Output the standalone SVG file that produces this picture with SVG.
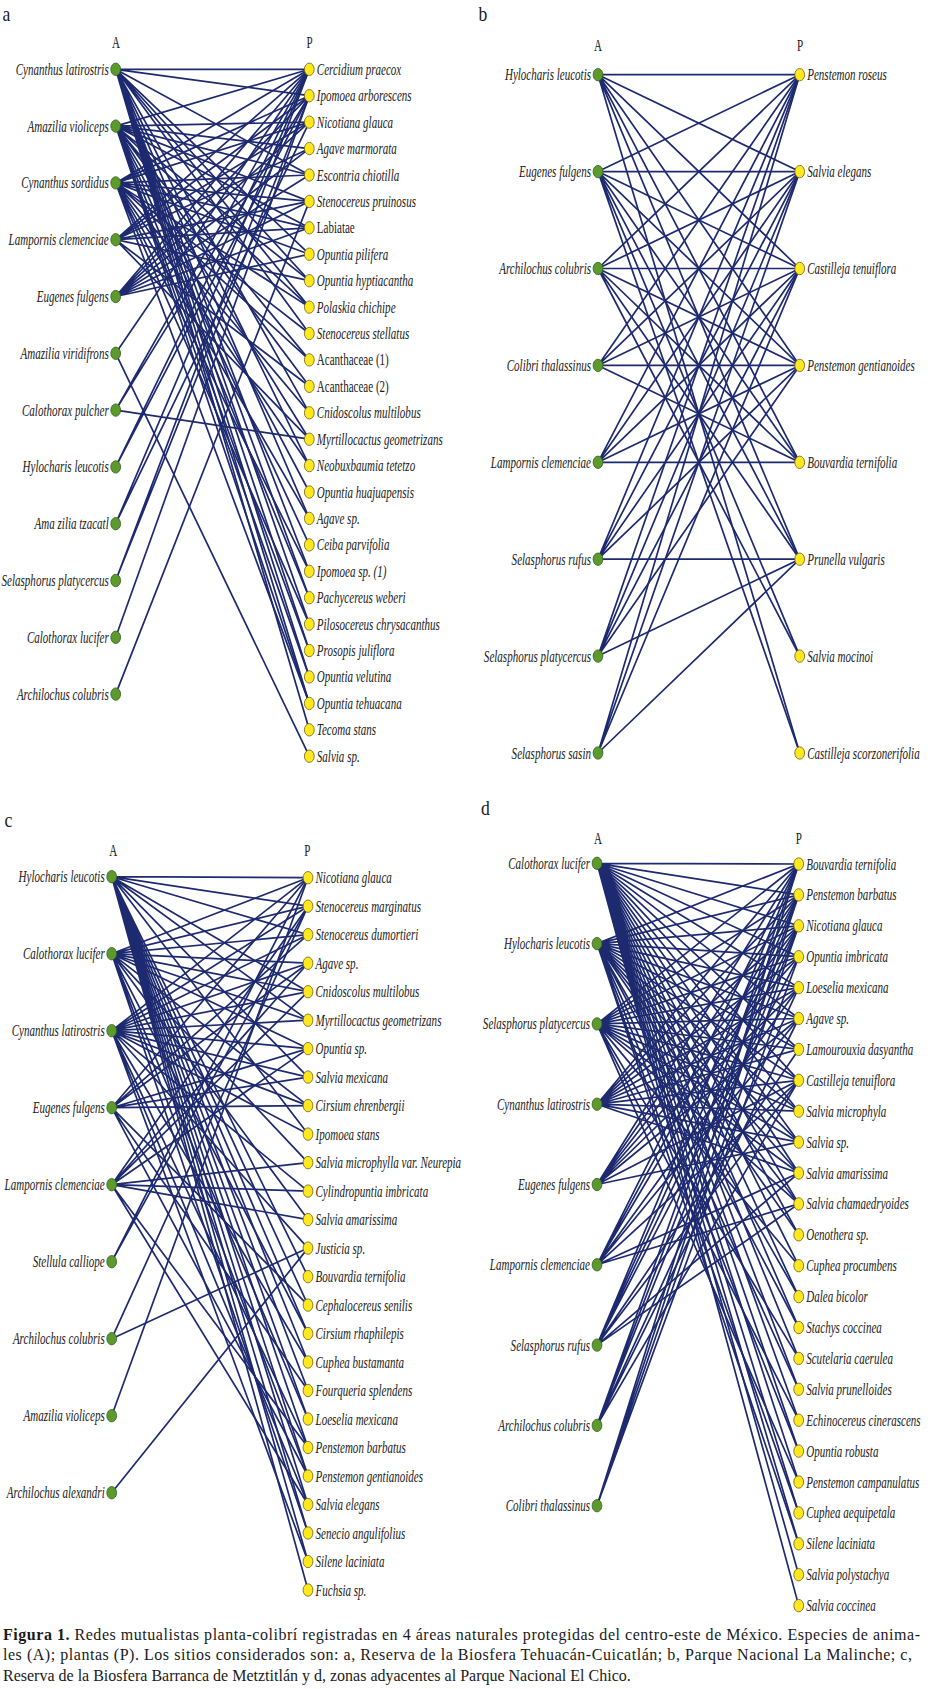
<svg xmlns="http://www.w3.org/2000/svg" width="934" height="1689" viewBox="0 0 934 1689">
<style>
.lab{font-family:"Liberation Serif","Times New Roman",serif;font-size:16px;font-style:italic;fill:#1a1a1a}
.up{font-style:normal}
.end{text-anchor:end}
.hd{font-family:"Liberation Serif","Times New Roman",serif;font-size:16px;text-anchor:middle;fill:#1a1a1a}
.pn{font-family:"Liberation Serif","Times New Roman",serif;font-size:22px;fill:#1a1a1a}
.cap{font-family:"Liberation Serif","Times New Roman",serif;font-size:16px;fill:#1a1a1a}
.an ellipse{fill:#5c9a2e;stroke:#36601a;stroke-width:0.8}
.pl ellipse{fill:#ffe81f;stroke:#6d5f12;stroke-width:0.8}
.edges path{fill:none;stroke:#1e2a70;stroke-width:1.7;stroke-linecap:round}
</style>
<rect width="934" height="1689" fill="#ffffff"/>

<!-- Panel labels and headers -->
<text class="pn" transform="translate(2.5,20.7) scale(0.8,1)">a</text>
<text class="pn" transform="translate(478.5,20.7) scale(0.8,1)">b</text>
<text class="pn" transform="translate(4.5,826.7) scale(0.8,1)">c</text>
<text class="pn" transform="translate(481,815) scale(0.8,1)">d</text>
<text class="hd" transform="translate(116,47.7) scale(0.69,1)">A</text>
<text class="hd" transform="translate(309.5,47.7) scale(0.69,1)">P</text>
<text class="hd" transform="translate(598,50.5) scale(0.69,1)">A</text>
<text class="hd" transform="translate(800,50.5) scale(0.69,1)">P</text>
<text class="hd" transform="translate(113.3,856) scale(0.69,1)">A</text>
<text class="hd" transform="translate(307.3,856) scale(0.69,1)">P</text>
<text class="hd" transform="translate(598,844) scale(0.69,1)">A</text>
<text class="hd" transform="translate(798.7,844) scale(0.69,1)">P</text>

<!-- Connectors -->
<g id="connectors" class="edges">
<g id="edges-a">
<path d="M115.7 69.3L309.3 69.3M115.7 69.3L309.3 95.7M115.7 69.3L309.3 175M115.7 69.3L309.3 254.2M115.7 69.3L309.3 280.7M115.7 69.3L309.3 307.1M115.7 69.3L309.3 333.5M115.7 69.3L309.3 412.8M115.7 69.3L309.3 465.6M115.7 69.3L309.3 518.4M115.7 69.3L309.3 571.3M115.7 69.3L309.3 597.7M115.7 69.3L309.3 624.1M115.7 69.3L309.3 650.5M115.7 69.3L309.3 676.9M115.7 69.3L309.3 703.4M115.7 69.3L309.3 729.8"/>
<path d="M115.7 126.1L309.3 69.3M115.7 126.1L309.3 122.1M115.7 126.1L309.3 148.6M115.7 126.1L309.3 175M115.7 126.1L309.3 201.4M115.7 126.1L309.3 227.8M115.7 126.1L309.3 280.7M115.7 126.1L309.3 307.1M115.7 126.1L309.3 359.9M115.7 126.1L309.3 386.3M115.7 126.1L309.3 439.2M115.7 126.1L309.3 492M115.7 126.1L309.3 544.9M115.7 126.1L309.3 597.7M115.7 126.1L309.3 650.5M115.7 126.1L309.3 676.9M115.7 126.1L309.3 703.4"/>
<path d="M115.7 182.9L309.3 69.3M115.7 182.9L309.3 95.7M115.7 182.9L309.3 122.1M115.7 182.9L309.3 175M115.7 182.9L309.3 201.4M115.7 182.9L309.3 227.8M115.7 182.9L309.3 254.2M115.7 182.9L309.3 307.1M115.7 182.9L309.3 333.5M115.7 182.9L309.3 359.9M115.7 182.9L309.3 412.8M115.7 182.9L309.3 465.6M115.7 182.9L309.3 518.4M115.7 182.9L309.3 571.3M115.7 182.9L309.3 624.1M115.7 182.9L309.3 703.4"/>
<path d="M115.7 239.7L309.3 69.3M115.7 239.7L309.3 95.7M115.7 239.7L309.3 122.1M115.7 239.7L309.3 148.6M115.7 239.7L309.3 201.4M115.7 239.7L309.3 227.8M115.7 239.7L309.3 280.7M115.7 239.7L309.3 386.3M115.7 239.7L309.3 439.2"/>
<path d="M115.7 296.5L309.3 69.3M115.7 296.5L309.3 95.7M115.7 296.5L309.3 122.1M115.7 296.5L309.3 148.6M115.7 296.5L309.3 175M115.7 296.5L309.3 201.4M115.7 296.5L309.3 227.8M115.7 296.5L309.3 254.2"/>
<path d="M115.7 353.3L309.3 69.3M115.7 353.3L309.3 756.2"/>
<path d="M115.7 410.1L309.3 69.3M115.7 410.1L309.3 95.7M115.7 410.1L309.3 439.2"/>
<path d="M115.7 466.9L309.3 69.3M115.7 466.9L309.3 95.7"/>
<path d="M115.7 523.7L309.3 69.3M115.7 523.7L309.3 122.1"/>
<path d="M115.7 580.5L309.3 69.3M115.7 580.5L309.3 95.7"/>
<path d="M115.7 637.3L309.3 95.7"/>
<path d="M115.7 694.1L309.3 201.4"/>
</g>
<g id="edges-b">
<path d="M598 74.7L799.7 74.7M598 74.7L799.7 171.6M598 74.7L799.7 268.5M598 74.7L799.7 365.4M598 74.7L799.7 462.3M598 74.7L799.7 559.2M598 74.7L799.7 753"/>
<path d="M598 171.6L799.7 74.7M598 171.6L799.7 171.6M598 171.6L799.7 268.5M598 171.6L799.7 365.4M598 171.6L799.7 462.3M598 171.6L799.7 559.2M598 171.6L799.7 656.1M598 171.6L799.7 753"/>
<path d="M598 268.5L799.7 74.7M598 268.5L799.7 171.6M598 268.5L799.7 268.5M598 268.5L799.7 365.4M598 268.5L799.7 462.3M598 268.5L799.7 559.2M598 268.5L799.7 656.1"/>
<path d="M598 365.4L799.7 74.7M598 365.4L799.7 171.6M598 365.4L799.7 268.5M598 365.4L799.7 365.4M598 365.4L799.7 462.3"/>
<path d="M598 462.3L799.7 74.7M598 462.3L799.7 171.6M598 462.3L799.7 268.5M598 462.3L799.7 365.4M598 462.3L799.7 462.3"/>
<path d="M598 559.2L799.7 74.7M598 559.2L799.7 171.6M598 559.2L799.7 268.5M598 559.2L799.7 365.4M598 559.2L799.7 559.2"/>
<path d="M598 656.1L799.7 74.7M598 656.1L799.7 171.6M598 656.1L799.7 268.5M598 656.1L799.7 365.4M598 656.1L799.7 559.2"/>
<path d="M598 753L799.7 74.7M598 753L799.7 171.6M598 753L799.7 268.5M598 753L799.7 559.2"/>
</g>
<g id="edges-c">
<path d="M111.7 876.7L308 877.7M111.7 876.7L308 906.2M111.7 876.7L308 934.7M111.7 876.7L308 991.7M111.7 876.7L308 1020.2M111.7 876.7L308 1077.1M111.7 876.7L308 1134.1M111.7 876.7L308 1276.6M111.7 876.7L308 1305.1M111.7 876.7L308 1333.5M111.7 876.7L308 1362M111.7 876.7L308 1390.5M111.7 876.7L308 1419M111.7 876.7L308 1447.5M111.7 876.7L308 1476M111.7 876.7L308 1504.5M111.7 876.7L308 1533M111.7 876.7L308 1561.5M111.7 876.7L308 1590"/>
<path d="M111.7 953.7L308 877.7M111.7 953.7L308 906.2M111.7 953.7L308 934.7M111.7 953.7L308 963.2M111.7 953.7L308 991.7M111.7 953.7L308 1020.2M111.7 953.7L308 1048.6M111.7 953.7L308 1105.6M111.7 953.7L308 1162.6M111.7 953.7L308 1219.6M111.7 953.7L308 1333.5M111.7 953.7L308 1419M111.7 953.7L308 1476M111.7 953.7L308 1533"/>
<path d="M111.7 1030.7L308 877.7M111.7 1030.7L308 906.2M111.7 1030.7L308 934.7M111.7 1030.7L308 963.2M111.7 1030.7L308 991.7M111.7 1030.7L308 1020.2M111.7 1030.7L308 1048.6M111.7 1030.7L308 1077.1M111.7 1030.7L308 1105.6M111.7 1030.7L308 1134.1M111.7 1030.7L308 1191.1M111.7 1030.7L308 1248.1M111.7 1030.7L308 1362M111.7 1030.7L308 1447.5M111.7 1030.7L308 1504.5M111.7 1030.7L308 1561.5"/>
<path d="M111.7 1107.7L308 877.7M111.7 1107.7L308 934.7M111.7 1107.7L308 963.2M111.7 1107.7L308 1048.6M111.7 1107.7L308 1077.1M111.7 1107.7L308 1105.6M111.7 1107.7L308 1305.1M111.7 1107.7L308 1390.5M111.7 1107.7L308 1476"/>
<path d="M111.7 1184.7L308 906.2M111.7 1184.7L308 963.2M111.7 1184.7L308 991.7M111.7 1184.7L308 1048.6M111.7 1184.7L308 1162.6M111.7 1184.7L308 1191.1M111.7 1184.7L308 1219.6M111.7 1184.7L308 1447.5M111.7 1184.7L308 1504.5"/>
<path d="M111.7 1261.7L308 877.7M111.7 1261.7L308 906.2"/>
<path d="M111.7 1338.7L308 906.2M111.7 1338.7L308 1248.1"/>
<path d="M111.7 1415.7L308 877.7"/>
<path d="M111.7 1492.7L308 1248.1"/>
</g>
<g id="edges-d">
<path d="M597 863.3L798.7 864M597 863.3L798.7 894.9M597 863.3L798.7 925.8M597 863.3L798.7 956.7M597 863.3L798.7 987.6M597 863.3L798.7 1018.5M597 863.3L798.7 1049.4M597 863.3L798.7 1080.3M597 863.3L798.7 1111.2M597 863.3L798.7 1142.1M597 863.3L798.7 1173M597 863.3L798.7 1203.9M597 863.3L798.7 1234.8M597 863.3L798.7 1265.7M597 863.3L798.7 1296.6M597 863.3L798.7 1327.5M597 863.3L798.7 1358.4M597 863.3L798.7 1389.3M597 863.3L798.7 1420.2M597 863.3L798.7 1451.1M597 863.3L798.7 1482M597 863.3L798.7 1512.9M597 863.3L798.7 1543.8M597 863.3L798.7 1574.7M597 863.3L798.7 1605.6"/>
<path d="M597 943.6L798.7 864M597 943.6L798.7 894.9M597 943.6L798.7 925.8M597 943.6L798.7 956.7M597 943.6L798.7 987.6M597 943.6L798.7 1018.5M597 943.6L798.7 1049.4M597 943.6L798.7 1080.3M597 943.6L798.7 1111.2M597 943.6L798.7 1142.1M597 943.6L798.7 1173M597 943.6L798.7 1203.9M597 943.6L798.7 1234.8M597 943.6L798.7 1296.6M597 943.6L798.7 1327.5M597 943.6L798.7 1389.3M597 943.6L798.7 1451.1M597 943.6L798.7 1512.9M597 943.6L798.7 1543.8"/>
<path d="M597 1023.9L798.7 864M597 1023.9L798.7 894.9M597 1023.9L798.7 925.8M597 1023.9L798.7 956.7M597 1023.9L798.7 987.6M597 1023.9L798.7 1018.5M597 1023.9L798.7 1049.4M597 1023.9L798.7 1080.3M597 1023.9L798.7 1111.2M597 1023.9L798.7 1142.1M597 1023.9L798.7 1173M597 1023.9L798.7 1203.9M597 1023.9L798.7 1265.7M597 1023.9L798.7 1358.4M597 1023.9L798.7 1420.2M597 1023.9L798.7 1482"/>
<path d="M597 1104.2L798.7 864M597 1104.2L798.7 894.9M597 1104.2L798.7 925.8M597 1104.2L798.7 956.7M597 1104.2L798.7 987.6M597 1104.2L798.7 1018.5M597 1104.2L798.7 1049.4M597 1104.2L798.7 1080.3M597 1104.2L798.7 1111.2M597 1104.2L798.7 1142.1M597 1104.2L798.7 1173"/>
<path d="M597 1184.5L798.7 864M597 1184.5L798.7 894.9M597 1184.5L798.7 925.8M597 1184.5L798.7 956.7M597 1184.5L798.7 987.6M597 1184.5L798.7 1018.5M597 1184.5L798.7 1080.3M597 1184.5L798.7 1142.1"/>
<path d="M597 1264.8L798.7 864M597 1264.8L798.7 894.9M597 1264.8L798.7 925.8M597 1264.8L798.7 987.6M597 1264.8L798.7 1018.5M597 1264.8L798.7 1080.3M597 1264.8L798.7 1173M597 1264.8L798.7 1203.9"/>
<path d="M597 1345.1L798.7 864M597 1345.1L798.7 894.9M597 1345.1L798.7 925.8M597 1345.1L798.7 956.7M597 1345.1L798.7 1049.4M597 1345.1L798.7 1080.3M597 1345.1L798.7 1173M597 1345.1L798.7 1203.9"/>
<path d="M597 1425.4L798.7 864M597 1425.4L798.7 894.9M597 1425.4L798.7 925.8M597 1425.4L798.7 987.6M597 1425.4L798.7 1018.5M597 1425.4L798.7 1080.3"/>
<path d="M597 1505.7L798.7 864M597 1505.7L798.7 894.9M597 1505.7L798.7 925.8M597 1505.7L798.7 956.7"/>
</g>
</g>

<!-- Panel a nodes -->
<g id="panel-a">
<g id="a-A0" class="an"><ellipse cx="115.7" cy="69.3" rx="4.9" ry="6.2"/><text class="lab end" transform="translate(108.7,74.8) scale(0.69,1)">Cynanthus latirostris</text></g>
<g id="a-A1" class="an"><ellipse cx="115.7" cy="126.1" rx="4.9" ry="6.2"/><text class="lab end" transform="translate(108.7,131.6) scale(0.69,1)">Amazilia violiceps</text></g>
<g id="a-A2" class="an"><ellipse cx="115.7" cy="182.9" rx="4.9" ry="6.2"/><text class="lab end" transform="translate(108.7,188.4) scale(0.69,1)">Cynanthus sordidus</text></g>
<g id="a-A3" class="an"><ellipse cx="115.7" cy="239.7" rx="4.9" ry="6.2"/><text class="lab end" transform="translate(108.7,245.2) scale(0.69,1)">Lampornis clemenciae</text></g>
<g id="a-A4" class="an"><ellipse cx="115.7" cy="296.5" rx="4.9" ry="6.2"/><text class="lab end" transform="translate(108.7,302) scale(0.69,1)">Eugenes fulgens</text></g>
<g id="a-A5" class="an"><ellipse cx="115.7" cy="353.3" rx="4.9" ry="6.2"/><text class="lab end" transform="translate(108.7,358.8) scale(0.69,1)">Amazilia viridifrons</text></g>
<g id="a-A6" class="an"><ellipse cx="115.7" cy="410.1" rx="4.9" ry="6.2"/><text class="lab end" transform="translate(108.7,415.6) scale(0.69,1)">Calothorax pulcher</text></g>
<g id="a-A7" class="an"><ellipse cx="115.7" cy="466.9" rx="4.9" ry="6.2"/><text class="lab end" transform="translate(108.7,472.4) scale(0.69,1)">Hylocharis leucotis</text></g>
<g id="a-A8" class="an"><ellipse cx="115.7" cy="523.7" rx="4.9" ry="6.2"/><text class="lab end" transform="translate(108.7,529.2) scale(0.69,1)">Ama zilia tzacatl</text></g>
<g id="a-A9" class="an"><ellipse cx="115.7" cy="580.5" rx="4.9" ry="6.2"/><text class="lab end" transform="translate(108.7,586) scale(0.69,1)">Selasphorus platycercus</text></g>
<g id="a-A10" class="an"><ellipse cx="115.7" cy="637.3" rx="4.9" ry="6.2"/><text class="lab end" transform="translate(108.7,642.8) scale(0.69,1)">Calothorax lucifer</text></g>
<g id="a-A11" class="an"><ellipse cx="115.7" cy="694.1" rx="4.9" ry="6.2"/><text class="lab end" transform="translate(108.7,699.6) scale(0.69,1)">Archilochus colubris</text></g>

<g id="a-P0" class="pl"><ellipse cx="309.3" cy="69.3" rx="4.9" ry="6.2"/><text class="lab" transform="translate(316.8,74.8) scale(0.69,1)">Cercidium praecox</text></g>
<g id="a-P1" class="pl"><ellipse cx="309.3" cy="95.7" rx="4.9" ry="6.2"/><text class="lab" transform="translate(316.8,101.2) scale(0.69,1)">Ipomoea arborescens</text></g>
<g id="a-P2" class="pl"><ellipse cx="309.3" cy="122.1" rx="4.9" ry="6.2"/><text class="lab" transform="translate(316.8,127.6) scale(0.69,1)">Nicotiana glauca</text></g>
<g id="a-P3" class="pl"><ellipse cx="309.3" cy="148.6" rx="4.9" ry="6.2"/><text class="lab" transform="translate(316.8,154.1) scale(0.69,1)">Agave marmorata</text></g>
<g id="a-P4" class="pl"><ellipse cx="309.3" cy="175" rx="4.9" ry="6.2"/><text class="lab" transform="translate(316.8,180.5) scale(0.69,1)">Escontria chiotilla</text></g>
<g id="a-P5" class="pl"><ellipse cx="309.3" cy="201.4" rx="4.9" ry="6.2"/><text class="lab" transform="translate(316.8,206.9) scale(0.69,1)">Stenocereus pruinosus</text></g>
<g id="a-P6" class="pl"><ellipse cx="309.3" cy="227.8" rx="4.9" ry="6.2"/><text class="lab up" transform="translate(316.8,233.3) scale(0.69,1)">Labiatae</text></g>
<g id="a-P7" class="pl"><ellipse cx="309.3" cy="254.2" rx="4.9" ry="6.2"/><text class="lab" transform="translate(316.8,259.7) scale(0.69,1)">Opuntia pilifera</text></g>
<g id="a-P8" class="pl"><ellipse cx="309.3" cy="280.7" rx="4.9" ry="6.2"/><text class="lab" transform="translate(316.8,286.2) scale(0.69,1)">Opuntia hyptiacantha</text></g>
<g id="a-P9" class="pl"><ellipse cx="309.3" cy="307.1" rx="4.9" ry="6.2"/><text class="lab" transform="translate(316.8,312.6) scale(0.69,1)">Polaskia chichipe</text></g>
<g id="a-P10" class="pl"><ellipse cx="309.3" cy="333.5" rx="4.9" ry="6.2"/><text class="lab" transform="translate(316.8,339) scale(0.69,1)">Stenocereus stellatus</text></g>
<g id="a-P11" class="pl"><ellipse cx="309.3" cy="359.9" rx="4.9" ry="6.2"/><text class="lab up" transform="translate(316.8,365.4) scale(0.69,1)">Acanthaceae (1)</text></g>
<g id="a-P12" class="pl"><ellipse cx="309.3" cy="386.3" rx="4.9" ry="6.2"/><text class="lab up" transform="translate(316.8,391.8) scale(0.69,1)">Acanthaceae (2)</text></g>
<g id="a-P13" class="pl"><ellipse cx="309.3" cy="412.8" rx="4.9" ry="6.2"/><text class="lab" transform="translate(316.8,418.3) scale(0.69,1)">Cnidoscolus multilobus</text></g>
<g id="a-P14" class="pl"><ellipse cx="309.3" cy="439.2" rx="4.9" ry="6.2"/><text class="lab" transform="translate(316.8,444.7) scale(0.69,1)">Myrtillocactus geometrizans</text></g>
<g id="a-P15" class="pl"><ellipse cx="309.3" cy="465.6" rx="4.9" ry="6.2"/><text class="lab" transform="translate(316.8,471.1) scale(0.69,1)">Neobuxbaumia tetetzo</text></g>
<g id="a-P16" class="pl"><ellipse cx="309.3" cy="492" rx="4.9" ry="6.2"/><text class="lab" transform="translate(316.8,497.5) scale(0.69,1)">Opuntia huajuapensis</text></g>
<g id="a-P17" class="pl"><ellipse cx="309.3" cy="518.4" rx="4.9" ry="6.2"/><text class="lab" transform="translate(316.8,523.9) scale(0.69,1)">Agave sp.</text></g>
<g id="a-P18" class="pl"><ellipse cx="309.3" cy="544.9" rx="4.9" ry="6.2"/><text class="lab" transform="translate(316.8,550.4) scale(0.69,1)">Ceiba parvifolia</text></g>
<g id="a-P19" class="pl"><ellipse cx="309.3" cy="571.3" rx="4.9" ry="6.2"/><text class="lab" transform="translate(316.8,576.8) scale(0.69,1)">Ipomoea sp. (1)</text></g>
<g id="a-P20" class="pl"><ellipse cx="309.3" cy="597.7" rx="4.9" ry="6.2"/><text class="lab" transform="translate(316.8,603.2) scale(0.69,1)">Pachycereus weberi</text></g>
<g id="a-P21" class="pl"><ellipse cx="309.3" cy="624.1" rx="4.9" ry="6.2"/><text class="lab" transform="translate(316.8,629.6) scale(0.69,1)">Pilosocereus chrysacanthus</text></g>
<g id="a-P22" class="pl"><ellipse cx="309.3" cy="650.5" rx="4.9" ry="6.2"/><text class="lab" transform="translate(316.8,656) scale(0.69,1)">Prosopis juliflora</text></g>
<g id="a-P23" class="pl"><ellipse cx="309.3" cy="676.9" rx="4.9" ry="6.2"/><text class="lab" transform="translate(316.8,682.4) scale(0.69,1)">Opuntia velutina</text></g>
<g id="a-P24" class="pl"><ellipse cx="309.3" cy="703.4" rx="4.9" ry="6.2"/><text class="lab" transform="translate(316.8,708.9) scale(0.69,1)">Opuntia tehuacana</text></g>
<g id="a-P25" class="pl"><ellipse cx="309.3" cy="729.8" rx="4.9" ry="6.2"/><text class="lab" transform="translate(316.8,735.3) scale(0.69,1)">Tecoma stans</text></g>
<g id="a-P26" class="pl"><ellipse cx="309.3" cy="756.2" rx="4.9" ry="6.2"/><text class="lab" transform="translate(316.8,761.7) scale(0.69,1)">Salvia sp.</text></g>
</g>

<!-- Panel b nodes -->
<g id="panel-b">
<g id="b-A0" class="an"><ellipse cx="598" cy="74.7" rx="4.9" ry="6.2"/><text class="lab end" transform="translate(591,80.2) scale(0.69,1)">Hylocharis leucotis</text></g>
<g id="b-A1" class="an"><ellipse cx="598" cy="171.6" rx="4.9" ry="6.2"/><text class="lab end" transform="translate(591,177.1) scale(0.69,1)">Eugenes fulgens</text></g>
<g id="b-A2" class="an"><ellipse cx="598" cy="268.5" rx="4.9" ry="6.2"/><text class="lab end" transform="translate(591,274) scale(0.69,1)">Archilochus colubris</text></g>
<g id="b-A3" class="an"><ellipse cx="598" cy="365.4" rx="4.9" ry="6.2"/><text class="lab end" transform="translate(591,370.9) scale(0.69,1)">Colibri thalassinus</text></g>
<g id="b-A4" class="an"><ellipse cx="598" cy="462.3" rx="4.9" ry="6.2"/><text class="lab end" transform="translate(591,467.8) scale(0.69,1)">Lampornis clemenciae</text></g>
<g id="b-A5" class="an"><ellipse cx="598" cy="559.2" rx="4.9" ry="6.2"/><text class="lab end" transform="translate(591,564.7) scale(0.69,1)">Selasphorus rufus</text></g>
<g id="b-A6" class="an"><ellipse cx="598" cy="656.1" rx="4.9" ry="6.2"/><text class="lab end" transform="translate(591,661.6) scale(0.69,1)">Selasphorus platycercus</text></g>
<g id="b-A7" class="an"><ellipse cx="598" cy="753" rx="4.9" ry="6.2"/><text class="lab end" transform="translate(591,758.5) scale(0.69,1)">Selasphorus sasin</text></g>

<g id="b-P0" class="pl"><ellipse cx="799.7" cy="74.7" rx="4.9" ry="6.2"/><text class="lab" transform="translate(807.2,80.2) scale(0.69,1)">Penstemon roseus</text></g>
<g id="b-P1" class="pl"><ellipse cx="799.7" cy="171.6" rx="4.9" ry="6.2"/><text class="lab" transform="translate(807.2,177.1) scale(0.69,1)">Salvia elegans</text></g>
<g id="b-P2" class="pl"><ellipse cx="799.7" cy="268.5" rx="4.9" ry="6.2"/><text class="lab" transform="translate(807.2,274) scale(0.69,1)">Castilleja tenuiflora</text></g>
<g id="b-P3" class="pl"><ellipse cx="799.7" cy="365.4" rx="4.9" ry="6.2"/><text class="lab" transform="translate(807.2,370.9) scale(0.69,1)">Penstemon gentianoides</text></g>
<g id="b-P4" class="pl"><ellipse cx="799.7" cy="462.3" rx="4.9" ry="6.2"/><text class="lab" transform="translate(807.2,467.8) scale(0.69,1)">Bouvardia ternifolia</text></g>
<g id="b-P5" class="pl"><ellipse cx="799.7" cy="559.2" rx="4.9" ry="6.2"/><text class="lab" transform="translate(807.2,564.7) scale(0.69,1)">Prunella vulgaris</text></g>
<g id="b-P6" class="pl"><ellipse cx="799.7" cy="656.1" rx="4.9" ry="6.2"/><text class="lab" transform="translate(807.2,661.6) scale(0.69,1)">Salvia mocinoi</text></g>
<g id="b-P7" class="pl"><ellipse cx="799.7" cy="753" rx="4.9" ry="6.2"/><text class="lab" transform="translate(807.2,758.5) scale(0.69,1)">Castilleja scorzonerifolia</text></g>
</g>

<!-- Panel c nodes -->
<g id="panel-c">
<g id="c-A0" class="an"><ellipse cx="111.7" cy="876.7" rx="4.9" ry="6.2"/><text class="lab end" transform="translate(104.7,882.2) scale(0.69,1)">Hylocharis leucotis</text></g>
<g id="c-A1" class="an"><ellipse cx="111.7" cy="953.7" rx="4.9" ry="6.2"/><text class="lab end" transform="translate(104.7,959.2) scale(0.69,1)">Calothorax lucifer</text></g>
<g id="c-A2" class="an"><ellipse cx="111.7" cy="1030.7" rx="4.9" ry="6.2"/><text class="lab end" transform="translate(104.7,1036.2) scale(0.69,1)">Cynanthus latirostris</text></g>
<g id="c-A3" class="an"><ellipse cx="111.7" cy="1107.7" rx="4.9" ry="6.2"/><text class="lab end" transform="translate(104.7,1113.2) scale(0.69,1)">Eugenes fulgens</text></g>
<g id="c-A4" class="an"><ellipse cx="111.7" cy="1184.7" rx="4.9" ry="6.2"/><text class="lab end" transform="translate(104.7,1190.2) scale(0.69,1)">Lampornis clemenciae</text></g>
<g id="c-A5" class="an"><ellipse cx="111.7" cy="1261.7" rx="4.9" ry="6.2"/><text class="lab end" transform="translate(104.7,1267.2) scale(0.69,1)">Stellula calliope</text></g>
<g id="c-A6" class="an"><ellipse cx="111.7" cy="1338.7" rx="4.9" ry="6.2"/><text class="lab end" transform="translate(104.7,1344.2) scale(0.69,1)">Archilochus colubris</text></g>
<g id="c-A7" class="an"><ellipse cx="111.7" cy="1415.7" rx="4.9" ry="6.2"/><text class="lab end" transform="translate(104.7,1421.2) scale(0.69,1)">Amazilia violiceps</text></g>
<g id="c-A8" class="an"><ellipse cx="111.7" cy="1492.7" rx="4.9" ry="6.2"/><text class="lab end" transform="translate(104.7,1498.2) scale(0.69,1)">Archilochus alexandri</text></g>

<g id="c-P0" class="pl"><ellipse cx="308" cy="877.7" rx="4.9" ry="6.2"/><text class="lab" transform="translate(315.5,883.2) scale(0.69,1)">Nicotiana glauca</text></g>
<g id="c-P1" class="pl"><ellipse cx="308" cy="906.2" rx="4.9" ry="6.2"/><text class="lab" transform="translate(315.5,911.7) scale(0.69,1)">Stenocereus marginatus</text></g>
<g id="c-P2" class="pl"><ellipse cx="308" cy="934.7" rx="4.9" ry="6.2"/><text class="lab" transform="translate(315.5,940.2) scale(0.69,1)">Stenocereus dumortieri</text></g>
<g id="c-P3" class="pl"><ellipse cx="308" cy="963.2" rx="4.9" ry="6.2"/><text class="lab" transform="translate(315.5,968.7) scale(0.69,1)">Agave sp.</text></g>
<g id="c-P4" class="pl"><ellipse cx="308" cy="991.7" rx="4.9" ry="6.2"/><text class="lab" transform="translate(315.5,997.2) scale(0.69,1)">Cnidoscolus multilobus</text></g>
<g id="c-P5" class="pl"><ellipse cx="308" cy="1020.2" rx="4.9" ry="6.2"/><text class="lab" transform="translate(315.5,1025.7) scale(0.69,1)">Myrtillocactus geometrizans</text></g>
<g id="c-P6" class="pl"><ellipse cx="308" cy="1048.6" rx="4.9" ry="6.2"/><text class="lab" transform="translate(315.5,1054.1) scale(0.69,1)">Opuntia sp.</text></g>
<g id="c-P7" class="pl"><ellipse cx="308" cy="1077.1" rx="4.9" ry="6.2"/><text class="lab" transform="translate(315.5,1082.6) scale(0.69,1)">Salvia mexicana</text></g>
<g id="c-P8" class="pl"><ellipse cx="308" cy="1105.6" rx="4.9" ry="6.2"/><text class="lab" transform="translate(315.5,1111.1) scale(0.69,1)">Cirsium ehrenbergii</text></g>
<g id="c-P9" class="pl"><ellipse cx="308" cy="1134.1" rx="4.9" ry="6.2"/><text class="lab" transform="translate(315.5,1139.6) scale(0.69,1)">Ipomoea stans</text></g>
<g id="c-P10" class="pl"><ellipse cx="308" cy="1162.6" rx="4.9" ry="6.2"/><text class="lab" transform="translate(315.5,1168.1) scale(0.69,1)">Salvia microphylla var. Neurepia</text></g>
<g id="c-P11" class="pl"><ellipse cx="308" cy="1191.1" rx="4.9" ry="6.2"/><text class="lab" transform="translate(315.5,1196.6) scale(0.69,1)">Cylindropuntia imbricata</text></g>
<g id="c-P12" class="pl"><ellipse cx="308" cy="1219.6" rx="4.9" ry="6.2"/><text class="lab" transform="translate(315.5,1225.1) scale(0.69,1)">Salvia amarissima</text></g>
<g id="c-P13" class="pl"><ellipse cx="308" cy="1248.1" rx="4.9" ry="6.2"/><text class="lab" transform="translate(315.5,1253.6) scale(0.69,1)">Justicia sp.</text></g>
<g id="c-P14" class="pl"><ellipse cx="308" cy="1276.6" rx="4.9" ry="6.2"/><text class="lab" transform="translate(315.5,1282.1) scale(0.69,1)">Bouvardia ternifolia</text></g>
<g id="c-P15" class="pl"><ellipse cx="308" cy="1305.1" rx="4.9" ry="6.2"/><text class="lab" transform="translate(315.5,1310.6) scale(0.69,1)">Cephalocereus senilis</text></g>
<g id="c-P16" class="pl"><ellipse cx="308" cy="1333.5" rx="4.9" ry="6.2"/><text class="lab" transform="translate(315.5,1339) scale(0.69,1)">Cirsium rhaphilepis</text></g>
<g id="c-P17" class="pl"><ellipse cx="308" cy="1362" rx="4.9" ry="6.2"/><text class="lab" transform="translate(315.5,1367.5) scale(0.69,1)">Cuphea bustamanta</text></g>
<g id="c-P18" class="pl"><ellipse cx="308" cy="1390.5" rx="4.9" ry="6.2"/><text class="lab" transform="translate(315.5,1396) scale(0.69,1)">Fourqueria splendens</text></g>
<g id="c-P19" class="pl"><ellipse cx="308" cy="1419" rx="4.9" ry="6.2"/><text class="lab" transform="translate(315.5,1424.5) scale(0.69,1)">Loeselia mexicana</text></g>
<g id="c-P20" class="pl"><ellipse cx="308" cy="1447.5" rx="4.9" ry="6.2"/><text class="lab" transform="translate(315.5,1453) scale(0.69,1)">Penstemon barbatus</text></g>
<g id="c-P21" class="pl"><ellipse cx="308" cy="1476" rx="4.9" ry="6.2"/><text class="lab" transform="translate(315.5,1481.5) scale(0.69,1)">Penstemon gentianoides</text></g>
<g id="c-P22" class="pl"><ellipse cx="308" cy="1504.5" rx="4.9" ry="6.2"/><text class="lab" transform="translate(315.5,1510) scale(0.69,1)">Salvia elegans</text></g>
<g id="c-P23" class="pl"><ellipse cx="308" cy="1533" rx="4.9" ry="6.2"/><text class="lab" transform="translate(315.5,1538.5) scale(0.69,1)">Senecio angulifolius</text></g>
<g id="c-P24" class="pl"><ellipse cx="308" cy="1561.5" rx="4.9" ry="6.2"/><text class="lab" transform="translate(315.5,1567) scale(0.69,1)">Silene laciniata</text></g>
<g id="c-P25" class="pl"><ellipse cx="308" cy="1590" rx="4.9" ry="6.2"/><text class="lab" transform="translate(315.5,1595.5) scale(0.69,1)">Fuchsia sp.</text></g>
</g>

<!-- Panel d nodes -->
<g id="panel-d">
<g id="d-A0" class="an"><ellipse cx="597" cy="863.3" rx="4.9" ry="6.2"/><text class="lab end" transform="translate(590,868.8) scale(0.69,1)">Calothorax lucifer</text></g>
<g id="d-A1" class="an"><ellipse cx="597" cy="943.6" rx="4.9" ry="6.2"/><text class="lab end" transform="translate(590,949.1) scale(0.69,1)">Hylocharis leucotis</text></g>
<g id="d-A2" class="an"><ellipse cx="597" cy="1023.9" rx="4.9" ry="6.2"/><text class="lab end" transform="translate(590,1029.4) scale(0.69,1)">Selasphorus platycercus</text></g>
<g id="d-A3" class="an"><ellipse cx="597" cy="1104.2" rx="4.9" ry="6.2"/><text class="lab end" transform="translate(590,1109.7) scale(0.69,1)">Cynanthus latirostris</text></g>
<g id="d-A4" class="an"><ellipse cx="597" cy="1184.5" rx="4.9" ry="6.2"/><text class="lab end" transform="translate(590,1190) scale(0.69,1)">Eugenes fulgens</text></g>
<g id="d-A5" class="an"><ellipse cx="597" cy="1264.8" rx="4.9" ry="6.2"/><text class="lab end" transform="translate(590,1270.3) scale(0.69,1)">Lampornis clemenciae</text></g>
<g id="d-A6" class="an"><ellipse cx="597" cy="1345.1" rx="4.9" ry="6.2"/><text class="lab end" transform="translate(590,1350.6) scale(0.69,1)">Selasphorus rufus</text></g>
<g id="d-A7" class="an"><ellipse cx="597" cy="1425.4" rx="4.9" ry="6.2"/><text class="lab end" transform="translate(590,1430.9) scale(0.69,1)">Archilochus colubris</text></g>
<g id="d-A8" class="an"><ellipse cx="597" cy="1505.7" rx="4.9" ry="6.2"/><text class="lab end" transform="translate(590,1511.2) scale(0.69,1)">Colibri thalassinus</text></g>

<g id="d-P0" class="pl"><ellipse cx="798.7" cy="864" rx="4.9" ry="6.2"/><text class="lab" transform="translate(806.2,869.5) scale(0.69,1)">Bouvardia ternifolia</text></g>
<g id="d-P1" class="pl"><ellipse cx="798.7" cy="894.9" rx="4.9" ry="6.2"/><text class="lab" transform="translate(806.2,900.4) scale(0.69,1)">Penstemon barbatus</text></g>
<g id="d-P2" class="pl"><ellipse cx="798.7" cy="925.8" rx="4.9" ry="6.2"/><text class="lab" transform="translate(806.2,931.3) scale(0.69,1)">Nicotiana glauca</text></g>
<g id="d-P3" class="pl"><ellipse cx="798.7" cy="956.7" rx="4.9" ry="6.2"/><text class="lab" transform="translate(806.2,962.2) scale(0.69,1)">Opuntia imbricata</text></g>
<g id="d-P4" class="pl"><ellipse cx="798.7" cy="987.6" rx="4.9" ry="6.2"/><text class="lab" transform="translate(806.2,993.1) scale(0.69,1)">Loeselia mexicana</text></g>
<g id="d-P5" class="pl"><ellipse cx="798.7" cy="1018.5" rx="4.9" ry="6.2"/><text class="lab" transform="translate(806.2,1024) scale(0.69,1)">Agave sp.</text></g>
<g id="d-P6" class="pl"><ellipse cx="798.7" cy="1049.4" rx="4.9" ry="6.2"/><text class="lab" transform="translate(806.2,1054.9) scale(0.69,1)">Lamourouxia dasyantha</text></g>
<g id="d-P7" class="pl"><ellipse cx="798.7" cy="1080.3" rx="4.9" ry="6.2"/><text class="lab" transform="translate(806.2,1085.8) scale(0.69,1)">Castilleja tenuiflora</text></g>
<g id="d-P8" class="pl"><ellipse cx="798.7" cy="1111.2" rx="4.9" ry="6.2"/><text class="lab" transform="translate(806.2,1116.7) scale(0.69,1)">Salvia microphyla</text></g>
<g id="d-P9" class="pl"><ellipse cx="798.7" cy="1142.1" rx="4.9" ry="6.2"/><text class="lab" transform="translate(806.2,1147.6) scale(0.69,1)">Salvia sp.</text></g>
<g id="d-P10" class="pl"><ellipse cx="798.7" cy="1173" rx="4.9" ry="6.2"/><text class="lab" transform="translate(806.2,1178.5) scale(0.69,1)">Salvia amarissima</text></g>
<g id="d-P11" class="pl"><ellipse cx="798.7" cy="1203.9" rx="4.9" ry="6.2"/><text class="lab" transform="translate(806.2,1209.4) scale(0.69,1)">Salvia chamaedryoides</text></g>
<g id="d-P12" class="pl"><ellipse cx="798.7" cy="1234.8" rx="4.9" ry="6.2"/><text class="lab" transform="translate(806.2,1240.3) scale(0.69,1)">Oenothera sp.</text></g>
<g id="d-P13" class="pl"><ellipse cx="798.7" cy="1265.7" rx="4.9" ry="6.2"/><text class="lab" transform="translate(806.2,1271.2) scale(0.69,1)">Cuphea procumbens</text></g>
<g id="d-P14" class="pl"><ellipse cx="798.7" cy="1296.6" rx="4.9" ry="6.2"/><text class="lab" transform="translate(806.2,1302.1) scale(0.69,1)">Dalea bicolor</text></g>
<g id="d-P15" class="pl"><ellipse cx="798.7" cy="1327.5" rx="4.9" ry="6.2"/><text class="lab" transform="translate(806.2,1333) scale(0.69,1)">Stachys coccinea</text></g>
<g id="d-P16" class="pl"><ellipse cx="798.7" cy="1358.4" rx="4.9" ry="6.2"/><text class="lab" transform="translate(806.2,1363.9) scale(0.69,1)">Scutelaria caerulea</text></g>
<g id="d-P17" class="pl"><ellipse cx="798.7" cy="1389.3" rx="4.9" ry="6.2"/><text class="lab" transform="translate(806.2,1394.8) scale(0.69,1)">Salvia prunelloides</text></g>
<g id="d-P18" class="pl"><ellipse cx="798.7" cy="1420.2" rx="4.9" ry="6.2"/><text class="lab" transform="translate(806.2,1425.7) scale(0.69,1)">Echinocereus cinerascens</text></g>
<g id="d-P19" class="pl"><ellipse cx="798.7" cy="1451.1" rx="4.9" ry="6.2"/><text class="lab" transform="translate(806.2,1456.6) scale(0.69,1)">Opuntia robusta</text></g>
<g id="d-P20" class="pl"><ellipse cx="798.7" cy="1482" rx="4.9" ry="6.2"/><text class="lab" transform="translate(806.2,1487.5) scale(0.69,1)">Penstemon campanulatus</text></g>
<g id="d-P21" class="pl"><ellipse cx="798.7" cy="1512.9" rx="4.9" ry="6.2"/><text class="lab" transform="translate(806.2,1518.4) scale(0.69,1)">Cuphea aequipetala</text></g>
<g id="d-P22" class="pl"><ellipse cx="798.7" cy="1543.8" rx="4.9" ry="6.2"/><text class="lab" transform="translate(806.2,1549.3) scale(0.69,1)">Silene laciniata</text></g>
<g id="d-P23" class="pl"><ellipse cx="798.7" cy="1574.7" rx="4.9" ry="6.2"/><text class="lab" transform="translate(806.2,1580.2) scale(0.69,1)">Salvia polystachya</text></g>
<g id="d-P24" class="pl"><ellipse cx="798.7" cy="1605.6" rx="4.9" ry="6.2"/><text class="lab" transform="translate(806.2,1611.1) scale(0.69,1)">Salvia coccinea</text></g>
</g>

<!-- Caption -->
<g id="caption">
<text class="cap" x="3" y="1639.5" textLength="917"><tspan font-weight="bold">Figura 1.</tspan> Redes mutualistas planta-colibrí registradas en 4 áreas naturales protegidas del centro-este de México. Especies de  anima-</text>
<text class="cap" x="3" y="1660.2" textLength="909">les (A); plantas (P). Los sitios considerados son: a, Reserva de la Biosfera Tehuacán-Cuicatlán; b, Parque Nacional La Malinche; c,</text>
<text class="cap" x="3" y="1680.9">Reserva de la Biosfera Barranca de Metztitlán y d, zonas adyacentes al Parque Nacional El Chico.</text>
</g>
</svg>
